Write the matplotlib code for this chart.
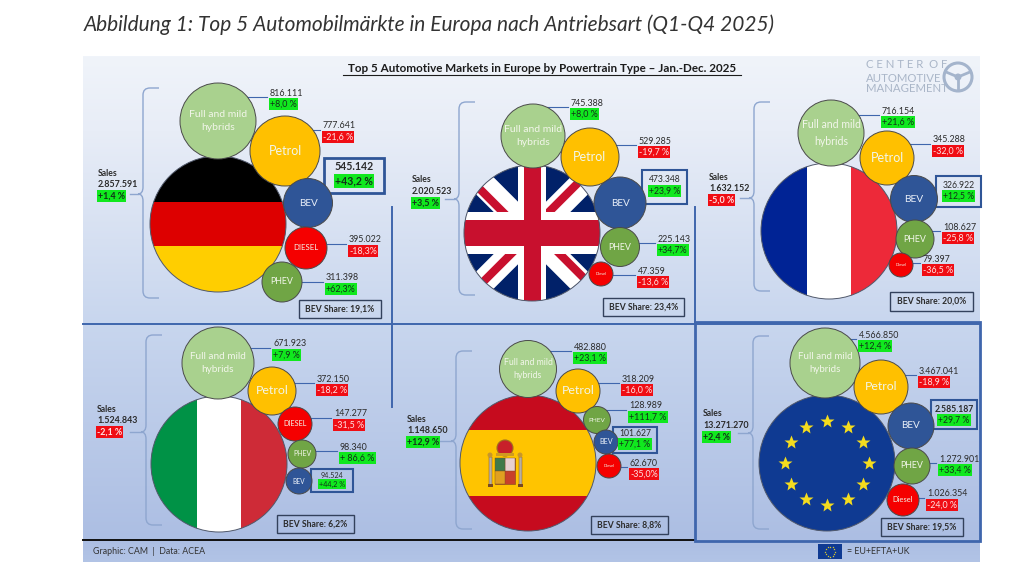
# Top 5 automotive markets in Europe by powertrain type
import numpy as np
import matplotlib
matplotlib.use("Agg")
import matplotlib.pyplot as plt
from matplotlib.patches import Circle, Rectangle, Polygon, PathPatch
from matplotlib.path import Path

plt.rcParams['font.family'] = ['Lato', 'DejaVu Sans']

# Data
markets = ["Germany", "UK", "France", "Italy", "Spain", "Europe"]
total_sales = [2857591, 2020523, 1632152, 1524843, 1148650, 13271270]
total_changes = ["+1,4 %", "+3,5 %", "-5,0 %", "-2,1 %", "+12,9 %", "+2,4 %"]
bev_shares = ["19,1%", "23,4%", "20,0%", "6,2%", "8,8%", "19,5%"]

de_types = ["Full and mild\nhybrids", "Petrol", "BEV", "DIESEL", "PHEV"]
de_sales = [816111, 777641, 545142, 395022, 311398]
de_changes = ["+8,0 %", "-21,6 %", "+43,2 %", "-18,3%", "+62,3%"]

uk_types = ["Full and mild\nhybrids", "Petrol", "BEV", "PHEV", "Diesel"]
uk_sales = [745388, 529285, 473348, 225143, 47359]
uk_changes = ["+8,0 %", "-19,7 %", "+23,9 %", "+34,7%", "-13,6 %"]

fr_types = ["Full and mild\nhybrids", "Petrol", "BEV", "PHEV", "Diesel"]
fr_sales = [716154, 345288, 326922, 108627, 79397]
fr_changes = ["+21,6 %", "-32,0 %", "+12,5 %", "-25,8 %", "-36,5 %"]

it_types = ["Full and mild\nhybrids", "Petrol", "DIESEL", "PHEV", "BEV"]
it_sales = [671923, 372150, 147277, 98340, 94524]
it_changes = ["+7,9 %", "-18,2 %", "-31,5 %", "+ 86,6 %", "+44,2 %"]

es_types = ["Full and mild\nhybrids", "Petrol", "PHEV", "BEV", "Diesel"]
es_sales = [482880, 318209, 128989, 101627, 62670]
es_changes = ["+23,1 %", "-16,0 %", "+111,7 %", "+77,1 %", "-35,0%"]

eu_types = ["Full and mild\nhybrids", "Petrol", "BEV", "PHEV", "Diesel"]
eu_sales = [4566850, 3467041, 2585187, 1272901, 1026354]
eu_changes = ["+12,4 %", "-18,9 %", "+29,7 %", "+33,4 %", "-24,0 %"]

type_lists = [de_types, uk_types, fr_types, it_types, es_types, eu_types]
sales_lists = [de_sales, uk_sales, fr_sales, it_sales, es_sales, eu_sales]
change_lists = [de_changes, uk_changes, fr_changes, it_changes, es_changes, eu_changes]

# Layout in image pixels, kept apart from the values.
# bubble: cx, cy, r, label x, label y, label font size
de_bubbles = [(218, 121, 38, 270, 93, 7.5), (285, 151, 35, 323, 126, 9), (308, 203, 24.5, 354, 167, 7.2),
              (306, 248, 21, 349, 240, 5.6), (282, 282, 20, 326, 278, 6.4)]
uk_bubbles = [(533, 136, 32, 571, 103, 7.5), (590, 157, 29, 639, 141, 9), (620, 203, 26, 664.5, 180, 7.2),
              (620, 247, 19.5, 658, 239, 6.4), (601, 274, 12, 638, 271, 3)]
fr_bubbles = [(831, 133, 33, 882, 111, 7.6), (887, 158, 27, 933, 140, 9), (914, 199, 23.5, 958.5, 185, 7.4),
              (915, 239, 19, 943, 227, 6.4), (901, 265, 12, 923, 259, 3)]
it_bubbles = [(218, 363, 36, 273, 344, 7.2), (272, 391, 24, 317, 379, 8.9), (295, 424, 17, 334, 414, 5.2),
              (302, 454, 14, 340, 447, 5), (299, 481, 13, 319, 475, 4.8)]
es_bubbles = [(528, 369, 28.5, 574, 347, 6.3), (578, 391, 22, 622, 379, 8.9), (597, 420, 13.5, 629, 406, 4.6),
              (606, 442, 12, 622, 433, 5.2), (609, 466, 12, 630, 463, 3)]
eu_bubbles = [(825, 363, 35, 859, 335, 7), (881, 387, 27, 919, 371, 8.8), (911, 426, 23, 954, 409, 7.2),
              (912, 466, 18, 939, 459, 6.4), (903, 500, 16, 927, 494, 5.4)]
bubble_lists = [de_bubbles, uk_bubbles, fr_bubbles, it_bubbles, es_bubbles, eu_bubbles]

flag_centers = [(218, 224), (532, 233), (829, 231), (219, 464), (528, 463), (827, 463)]
flag_radius = 68
sales_pos = [(98, 173), (412, 180), (709, 177), (97, 409), (407, 419), (703, 414)]
# brace: left x, top y, bottom y, tip y, tip x
brace_pos = [(143, 88, 298, 194, 130), (459, 102, 295, 199, 445), (754, 102, 291, 198, 740),
             (146, 335, 525, 432, 130), (456, 351, 529, 441, 438), (753, 336, 529, 433, 738)]
# BEV box: left, top, right, bottom, edge width
bev_boxes = [(324, 158, 384, 193, 2.0), (642, 170, 687, 204, 1.5), (936, 176, 981, 207, 1.5),
             (311, 469, 353, 492, 1.5), (613, 427, 657, 453, 1.5), (931, 400, 977, 429, 1.5)]
share_boxes = [(299, 300, 381, 318), (603, 298, 684, 316), (890, 292, 973, 311),
               (277, 515, 354, 533), (591, 516, 668, 534), (881, 518, 963, 536)]

type_colors = {"Full": "#a9d18e", "Petrol": "#ffc000", "BEV": "#2f5597", "PHEV": "#70a545",
               "DIESEL": "#f50000", "Diesel": "#f50000"}
INK = "#2b2b2b"
BRACE = "#8ea6cf"
LINE = "#3f66ad"


def de_num(v):
    return f"{v:,}".replace(",", ".")


def pct_text(x, y, s, size=6.4, ha="left", bold=False):
    up = s.startswith("+")
    ax.text(x, y, s, fontsize=size, ha=ha, va="center", color="#12301a" if up else "#ffe3e3",
            fontweight="bold" if bold else "normal",
            bbox=dict(facecolor="#10e81e" if up else "#f00d14", edgecolor="none", pad=0.9), zorder=6)


def brace(x, y0, y1, ytip, xtip):
    w = 16
    c = 7
    verts = [(x + w, y0), (x + c, y0), (x + c, y0), (x, y0), (x, y0 + c), (x, ytip - c), (x, ytip), (x - 5, ytip),
             (x, ytip), (x, ytip + c), (x, y1 - c), (x, y1), (x + c, y1), (x + w, y1)]
    codes = [Path.MOVETO, Path.LINETO, Path.LINETO, Path.CURVE3, Path.CURVE3, Path.LINETO, Path.CURVE3, Path.CURVE3,
             Path.CURVE3, Path.CURVE3, Path.LINETO, Path.CURVE3, Path.CURVE3, Path.LINETO]
    ax.add_patch(PathPatch(Path(verts, codes), fill=False, edgecolor=BRACE, lw=1.0, zorder=2))
    ax.plot([xtip, x - 5], [ytip, ytip], color=BRACE, lw=1.0, zorder=2)


def band(cx, cy, r, clip, color, x0, y0, x1, y1):
    # x0..y1 are fractions of the flag radius
    p = Rectangle((cx + x0 * r, cy + y0 * r), (x1 - x0) * r, (y1 - y0) * r, facecolor=color, edgecolor="none", zorder=3)
    ax.add_patch(p)
    p.set_clip_path(clip)


def stripe(cx, cy, r, clip, color, x0, y0, x1, y1, width):
    d = np.array([x1 - x0, y1 - y0], dtype=float)
    n = np.array([-d[1], d[0]]) / np.hypot(*d) * width / 2
    pts = [(x0 + n[0], y0 + n[1]), (x1 + n[0], y1 + n[1]), (x1 - n[0], y1 - n[1]), (x0 - n[0], y0 - n[1])]
    p = Polygon([(cx + a * r, cy + b * r) for a, b in pts], facecolor=color, edgecolor="none", zorder=3)
    ax.add_patch(p)
    p.set_clip_path(clip)


def draw_flag(name, cx, cy, r):
    clip = Circle((cx, cy), r, transform=ax.transData)
    if name == "Germany":
        band(cx, cy, r, clip, "#000000", -1, -1, 1, -0.33)
        band(cx, cy, r, clip, "#dd0000", -1, -0.33, 1, 0.33)
        band(cx, cy, r, clip, "#ffce00", -1, 0.33, 1, 1)
    elif name == "UK":
        band(cx, cy, r, clip, "#012169", -1, -1, 1, 1)
        for sx in (1, -1):
            stripe(cx, cy, r, clip, "#ffffff", -sx, -1, sx, 1, 0.36)
        # red diagonals are offset from the white ones
        stripe(cx, cy, r, clip, "#c8102e", -1.06, -1.06 + 0.12, 0, 0.12, 0.12)
        stripe(cx, cy, r, clip, "#c8102e", 0, -0.06, 1.06, -1.12, 0.12)
        stripe(cx, cy, r, clip, "#c8102e", 0, -0.1, 1.06, 0.96, 0.12)
        stripe(cx, cy, r, clip, "#c8102e", -1.06, 1.06, 0, 0.0, 0.12)
        band(cx, cy, r, clip, "#ffffff", -0.2, -1, 0.2, 1)
        band(cx, cy, r, clip, "#ffffff", -1, -0.31, 1, 0.31)
        band(cx, cy, r, clip, "#c8102e", -0.125, -1, 0.125, 1)
        band(cx, cy, r, clip, "#c8102e", -1, -0.19, 1, 0.19)
    elif name == "France":
        band(cx, cy, r, clip, "#002395", -1, -1, -0.33, 1)
        band(cx, cy, r, clip, "#ffffff", -0.33, -1, 0.33, 1)
        band(cx, cy, r, clip, "#ed2939", 0.33, -1, 1, 1)
    elif name == "Italy":
        band(cx, cy, r, clip, "#009246", -1, -1, -0.33, 1)
        band(cx, cy, r, clip, "#ffffff", -0.33, -1, 0.33, 1)
        band(cx, cy, r, clip, "#ce2b37", 0.33, -1, 1, 1)
    elif name == "Spain":
        band(cx, cy, r, clip, "#c60b1e", -1, -1, 1, -0.49)
        band(cx, cy, r, clip, "#ffc400", -1, -0.49, 1, 0.49)
        band(cx, cy, r, clip, "#c60b1e", -1, 0.49, 1, 1)
        # rough coat of arms
        px, py = cx - 23, cy
        ax.add_patch(Rectangle((px - 10, py - 5), 20, 26, facecolor="#c8402a", edgecolor="#7a4a20", lw=0.4, zorder=4))
        ax.add_patch(Rectangle((px, py - 5), 10, 13, facecolor="#e8d0d0", edgecolor="#7a4a20", lw=0.3, zorder=4))
        ax.add_patch(Rectangle((px - 10, py - 5), 10, 13, facecolor="#3f7a4a", edgecolor="#7a4a20", lw=0.3, zorder=4))
        ax.add_patch(Rectangle((px - 10, py + 8), 10, 13, facecolor="#e0a020", edgecolor="#7a4a20", lw=0.3, zorder=4))
        ax.add_patch(Circle((px, py - 15), 8, facecolor="#c8202a", edgecolor="#a07020", lw=0.8, zorder=4))
        ax.add_patch(Rectangle((px - 9, py - 10), 18, 3, facecolor="#d09a20", edgecolor="none", zorder=4))
        for sx in (-15, 15):
            ax.add_patch(Rectangle((px + sx - 1.5, py - 6), 3, 29, facecolor="#b8b0a0", edgecolor="#7a4a20", lw=0.3, zorder=4))
            ax.add_patch(Circle((px + sx, py - 8), 2.5, facecolor="#c8962a", edgecolor="none", zorder=4))
            ax.add_patch(Rectangle((px + sx - 2.5, py + 21), 5, 2.5, facecolor="#7a4a20", edgecolor="none", zorder=4))
    else:
        band(cx, cy, r, clip, "#0f3a92", -1, -1, 1, 1)
        ang = np.arange(12) * np.pi / 6
        ax.plot(cx + 42 * np.cos(ang), cy + 42 * np.sin(ang), ls="none", marker="*", ms=10.5,
                color="#f4dc1e", mec="none", zorder=4)
    ax.add_patch(Circle((cx, cy), r, fill=False, edgecolor="#50586a", lw=0.7, zorder=5))


fig = plt.figure(figsize=(10.24, 5.76), dpi=100)
ax = fig.add_axes([0, 0, 1, 1])
ax.set_xlim(0, 1024)
ax.set_ylim(576, 0)
ax.axis("off")

# Background gradient
stops_y = [56, 130, 322, 540, 562]
stops_c = np.array([[240, 244, 250], [232, 237, 247], [200, 214, 238], [172, 190, 227], [178, 196, 230]]) / 255
ys = np.arange(56, 562)
grad = np.stack([np.interp(ys, stops_y, stops_c[:, i]) for i in range(3)], axis=1)[:, None, :]
ax.imshow(grad, extent=(83, 980, 562, 56), aspect="auto", zorder=0)
ax.set_xlim(0, 1024)
ax.set_ylim(576, 0)

# Heading above the graphic
ax.text(84, 25, "Abbildung 1: Top 5 Automobilmärkte in Europa nach Antriebsart (Q1-Q4 2025)",
        fontsize=15, style="italic", color="#333333", ha="left", va="center")
ax.text(542, 69, "Top 5 Automotive Markets in Europe by Powertrain Type – Jan.-Dec. 2025",
        fontsize=8.4, fontweight="bold", color="#1c1c1c", ha="center", va="center", zorder=6)
ax.plot([343, 741], [75, 75], color="#1c1c1c", lw=0.8, zorder=6)

# Grid lines between the panels
ax.plot([83, 980], [324, 324], color=LINE, lw=1.4, zorder=1)
ax.plot([392, 392], [207, 407], color=LINE, lw=1.4, zorder=1)
ax.plot([695, 695], [207, 324], color=LINE, lw=1.4, zorder=1)
ax.plot([83, 695], [540, 540], color="#101010", lw=1.4, zorder=1)
ax.add_patch(Rectangle((695, 322), 285, 219, fill=False, edgecolor=LINE, lw=2.0, zorder=1))

# Logo
for s, ly in [("C E N T E R  O F", 65), ("AUTOMOTIVE", 78), ("MANAGEMENT", 88)]:
    ax.text(866, ly, s, fontsize=8.2, color="#aab6c8", ha="left", va="center", zorder=2)
ax.add_patch(Circle((958, 77), 14, fill=False, edgecolor="#a4b4cc", lw=2.2, zorder=2))
ax.add_patch(Circle((958, 77), 3.5, facecolor="#a4b4cc", edgecolor="none", zorder=2))
ax.plot([946, 958, 970], [72, 77, 72], color="#a4b4cc", lw=2, zorder=2)
ax.plot([958, 958], [77, 90], color="#a4b4cc", lw=2, zorder=2)

# Panels
for i, name in enumerate(markets):
    cx, cy = flag_centers[i]
    draw_flag(name, cx, cy, flag_radius)

    sx, sy = sales_pos[i]
    ax.text(sx, sy, "Sales", fontsize=6.2, color=INK, fontweight="bold", va="center")
    ax.text(sx, sy + 11.5, de_num(total_sales[i]), fontsize=6.4, color=INK, fontweight="bold", va="center")
    pct_text(sx, sy + 23, total_changes[i], bold=True)

    brace(*brace_pos[i])

    x0, y0, x1, y1 = share_boxes[i]
    ax.add_patch(Rectangle((x0, y0), x1 - x0, y1 - y0, facecolor="none", edgecolor="#33415c", lw=1.0, zorder=3))
    ax.text((x0 + x1) / 2, (y0 + y1) / 2, "BEV Share: " + bev_shares[i], fontsize=6.2, fontweight="bold",
            color=INK, ha="center", va="center", zorder=4)

    bx0, by0, bx1, by1, blw = bev_boxes[i]
    ax.add_patch(Rectangle((bx0, by0), bx1 - bx0, by1 - by0, facecolor="none", edgecolor="#2f5597", lw=blw, zorder=3))

    for ptype, val, chg, (bx, by, r, tx, ty, fs) in zip(type_lists[i], sales_lists[i], change_lists[i], bubble_lists[i]):
        key = ptype.split()[0]
        ax.add_patch(Circle((bx, by), r, facecolor=type_colors[key], edgecolor="#4a4a4a", lw=0.7, zorder=5))
        color = "#f2f6ea" if key != "BEV" else "#e8eef8"
        ax.text(bx, by, ptype, fontsize=fs, color=color, ha="center", va="center", linespacing=1.6, zorder=6)
        if key == "BEV":
            big = (bx1 - bx0) > 55
            size = 7.6 if big else 6.2 if by1 - by0 > 25 else 5.2
            ax.text((bx0 + bx1) / 2, ty, de_num(val), fontsize=size, color=INK, ha="center", va="center",
                    fontweight="bold" if name in ("Germany", "Europe") else "normal", zorder=6)
            pct_text((bx0 + bx1) / 2, ty + (14 if big else 11 if by1 - by0 > 25 else 9), chg, size=size, ha="center", bold=big)
        else:
            ax.text(tx, ty, de_num(val), fontsize=6.4, color=INK, ha="left", va="center", zorder=6)
            pct_text(tx, ty + 11, chg)
            ly = ty + 4
            edge = bx + np.sqrt(max(r ** 2 - (ly - by) ** 2, 0))
            if tx - edge > 8:
                ax.plot([edge, tx - 3], [ly, ly], color=LINE, lw=0.8, zorder=4)

# Footer
ax.text(93, 551, "Graphic: CAM  |  Data: ACEA", fontsize=6.4, color="#333333", va="center", zorder=3)
ax.add_patch(Rectangle((818, 544), 24, 15, facecolor="#0f3a92", edgecolor="none", zorder=3))
ang = np.arange(12) * np.pi / 6
ax.plot(830 + 5 * np.cos(ang), 551.5 + 5 * np.sin(ang), ls="none", marker="*", ms=1.6, color="#f4dc1e", mec="none", zorder=4)
ax.text(847, 551, "= EU+EFTA+UK", fontsize=6.4, color="#333333", va="center", zorder=3)

fig.savefig("out.png", dpi=100)
